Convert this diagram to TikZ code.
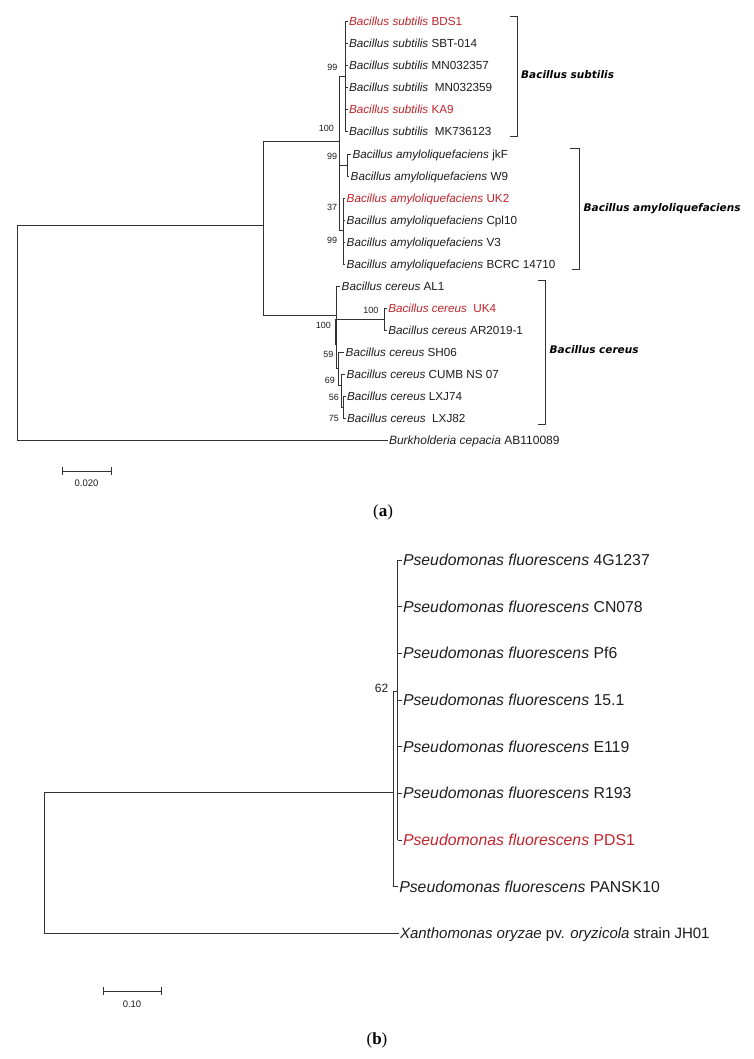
\documentclass[tikz,border=0pt]{standalone}
\usepackage{fontspec}
\setmainfont{Liberation Sans}
\newfontfamily\brfont{DejaVu Sans}
\newfontfamily\capfont{Liberation Serif}
\definecolor{tred}{RGB}{192,36,44}
\definecolor{ink}{RGB}{30,30,30}
\definecolor{lin}{RGB}{50,50,50}
\begin{document}
\begin{tikzpicture}[x=1pt,y=-1pt,
  br/.style={draw=lin, line width=0.8pt},
  bk/.style={draw=lin, line width=0.9pt},
  lfa/.style={anchor=west, inner sep=0pt, outer xsep=1.5pt, text=ink, font=\fontsize{11.7}{13}\selectfont, text height=8.4pt, text depth=0pt},
  lfb/.style={anchor=west, inner sep=0pt, outer xsep=1.5pt, text=ink, font=\fontsize{15.8}{17}\selectfont, text height=11.3pt, text depth=0pt},
  bsa/.style={anchor=east, inner sep=0pt, text=ink, font=\fontsize{9}{10}\selectfont, text height=6.4pt, text depth=0pt},
  bsb/.style={anchor=east, inner sep=0pt, text=ink, font=\fontsize{12}{13}\selectfont, text height=8.6pt, text depth=0pt},
  clab/.style={anchor=west, inner sep=0pt, text=black, font=\brfont\bfseries\itshape\fontsize{10.5}{12}\selectfont, text height=7.7pt, text depth=0pt},
  sbl/.style={anchor=center, inner sep=0pt, text=ink, font=\fontsize{9.5}{11}\selectfont},
  capst/.style={anchor=center, inner sep=0pt, text=black, font=\capfont\fontsize{17}{19}\selectfont},
]
\path[use as bounding box, fill=white] (0,0) rectangle (754,1059);

% ================= panel (a) =================
% leaves: subtilis
\node[lfa, text=tred] (bds1) at (347.5,21) {\textit{Bacillus subtilis} BDS1};
\node[lfa] (sbt) at (347.5,43) {\textit{Bacillus subtilis} SBT-014};
\node[lfa] (mn57) at (347.5,65) {\textit{Bacillus subtilis} MN032357};
\node[lfa] (mn59) at (347.5,87) {\textit{Bacillus subtilis}\ \ MN032359};
\node[lfa, text=tred] (ka9) at (347.5,109) {\textit{Bacillus subtilis} KA9};
\node[lfa] (mk) at (347.5,131) {\textit{Bacillus subtilis}\ \ MK736123};
% leaves: amyloliquefaciens
\node[lfa] (jkf) at (351,154) {\textit{Bacillus amyloliquefaciens} jkF};
\node[lfa] (w9) at (349.2,176) {\textit{Bacillus amyloliquefaciens} W9};
\node[lfa, text=tred] (uk2) at (345.2,198) {\textit{Bacillus amyloliquefaciens} UK2};
\node[lfa] (cpl) at (345.2,220) {\textit{Bacillus amyloliquefaciens} Cpl10};
\node[lfa] (v3) at (345.2,242) {\textit{Bacillus amyloliquefaciens} V3};
\node[lfa] (bcrc) at (345.2,264) {\textit{Bacillus amyloliquefaciens} BCRC 14710};
% leaves: cereus
\node[lfa] (al1) at (340.2,286) {\textit{Bacillus cereus} AL1};
\node[lfa, text=tred] (uk4) at (386.8,308) {\textit{Bacillus cereus}\ \ UK4};
\node[lfa] (ar) at (386.8,330) {\textit{Bacillus cereus} AR2019-1};
\node[lfa] (sh) at (344.2,352) {\textit{Bacillus cereus} SH06};
\node[lfa] (cumb) at (345.2,374) {\textit{Bacillus cereus} CUMB NS 07};
\node[lfa] (lx74) at (345.5,396) {\textit{Bacillus cereus} LXJ74};
\node[lfa] (lx82) at (345.5,418) {\textit{Bacillus cereus}\ \ LXJ82};
\node[lfa, font=\fontsize{12}{13}\selectfont] (bur) at (387.5,440) {\textit{Burkholderia cepacia} AB110089};

% internal nodes
\coordinate (rA) at (17,225);
\coordinate (nB) at (263,225);
\coordinate (n100) at (339,141);
\coordinate (nS) at (345,76);
\coordinate (nJ) at (347,165);
\coordinate (nU) at (343,230);
\coordinate (nC) at (336,315);
\coordinate (nK) at (384,319);
\coordinate (thk) at (336,345);
\coordinate (n59) at (338,368);
\coordinate (n69) at (341,385);
\coordinate (n56) at (343,407);

% branches
\draw[br] (rA) -- (nB);
\draw[br] (rA) |- (bur.west);
\draw[br] (nB |- n100) -- (nB |- nC);
\draw[br] (nB |- n100) -- (n100);
\draw[br] (nB |- nC) -- (nC);
\draw[br] (n100 |- nS) -- (n100 |- nU);
\draw[br] (n100 |- nS) -- (nS);
\draw[br] (n100 |- nJ) -- (nJ);
\draw[br] (n100 |- nU) -- (nU);
\draw[br] (nS |- bds1) -- (nS |- mk);
\foreach \l in {bds1,sbt,mn57,mn59,ka9,mk} \draw[br] (nS |- \l) -- (\l.west);
\draw[br] (nJ |- jkf) -- (nJ |- w9);
\foreach \l in {jkf,w9} \draw[br] (nJ |- \l) -- (\l.west);
\draw[br] (nU |- uk2) -- (nU |- bcrc);
\foreach \l in {uk2,cpl,v3,bcrc} \draw[br] (nU |- \l) -- (\l.west);
\draw[br] (nC |- al1) -- (nC |- n59);
\draw[br] (nC |- al1) -- (al1.west);
\draw[br, line width=1.7pt] (nC |- nK) -- (thk);
\draw[br] (nC |- nK) -- (nK);
\draw[br] (nK |- uk4) -- (nK |- ar);
\foreach \l in {uk4,ar} \draw[br] (nK |- \l) -- (\l.west);
\draw[br] (nC |- n59) -- (n59);
\draw[br] (n59 |- sh) -- (n59 |- n69);
\draw[br] (n59 |- sh) -- (sh.west);
\draw[br] (n59 |- n69) -- (n69);
\draw[br] (n69 |- cumb) -- (n69 |- n56);
\draw[br] (n69 |- cumb) -- (cumb.west);
\draw[br] (n69 |- n56) -- (n56);
\draw[br] (n56 |- lx74) -- (n56 |- lx82);
\foreach \l in {lx74,lx82} \draw[br] (n56 |- \l) -- (\l.west);

% bootstrap values
\node[bsa] (b1) at (337.5,67) {99};
\node[bsa] (b2) at (334,128.5) {100};
\node[bsa] (b3) at (337.3,156) {99};
\node[bsa] (b4) at (337.3,207) {37};
\node[bsa] (b5) at (337.3,240) {99};
\node[bsa] (b6) at (378.5,310) {100};
\node[bsa] (b7) at (331,325) {100};
\node[bsa] (b8) at (333.5,354.5) {59};
\node[bsa] (b9) at (335,380.5) {69};
\node[bsa] (b10) at (339,397.5) {56};
\node[bsa] (b11) at (339,418.5) {75};

% clade brackets
\draw[bk] (510,16) -- (517,16) -- (517,136) -- (510,136);
\draw[bk] (570,148) -- (579,148) -- (579,269) -- (572,269);
\draw[bk] (538,280) -- (545,280) -- (545,424) -- (538,424);
\node[clab] (cs) at (521,75) {Bacillus subtilis};
\node[clab] (ca) at (583.5,207.5) {Bacillus amyloliquefaciens};
\node[clab] (cc) at (549.5,350) {Bacillus cereus};

% scale bar (a)
\coordinate (sa1) at (62,471);
\coordinate (sa2) at (111,471);
\draw[br] (sa1) -- (sa2);
\draw[br] (sa1) ++(0,-4) -- ++(0,8);
\draw[br] (sa2) ++(0,-4) -- ++(0,8);
\node[sbl] (sal) at (86.5,483) {0.020};
\node[capst] (capa) at (383,512) {(\textbf{a})};

% ================= panel (b) =================
\node[lfb] (p1) at (401.5,560) {\textit{Pseudomonas fluorescens} 4G1237};
\node[lfb] (p2) at (401.5,606.7) {\textit{Pseudomonas fluorescens} CN078};
\node[lfb] (p3) at (401.5,653.3) {\textit{Pseudomonas fluorescens} Pf6};
\node[lfb] (p4) at (401.5,700) {\textit{Pseudomonas fluorescens} 15.1};
\node[lfb] (p5) at (401.5,746.7) {\textit{Pseudomonas fluorescens} E119};
\node[lfb] (p6) at (401.5,793.3) {\textit{Pseudomonas fluorescens} R193};
\node[lfb, text=tred] (p7) at (401.5,840) {\textit{Pseudomonas fluorescens} PDS1};
\node[lfb] (p8) at (397.8,886.7) {\textit{Pseudomonas fluorescens} PANSK10};
\node[lfb, font=\fontsize{15}{17}\selectfont] (xan) at (398.5,933.3) {\textit{Xanthomonas oryzae} pv. \textit{oryzicola} strain JH01};

\coordinate (rB) at (44,792.3);
\coordinate (nP) at (393.3,792.3);
\coordinate (nQ) at (397.7,691);

\draw[br] (rB) -- (nP);
\draw[br] (rB) |- (xan.west);
\draw[br] (nP |- nQ) -- (nP |- p8);
\draw[br] (nP |- nQ) -- (nQ);
\draw[br] (nP |- p8) -- (p8.west);
\draw[br] (nQ |- p1) -- (nQ |- p7);
\foreach \l in {p1,p2,p3,p4,p5,p6,p7} \draw[br] (nQ |- \l) -- (\l.west);
\node[bsb] (b62) at (388.5,688) {62};

% scale bar (b)
\coordinate (sb1) at (103,991);
\coordinate (sb2) at (161,991);
\draw[br] (sb1) -- (sb2);
\draw[br] (sb1) ++(0,-4) -- ++(0,8);
\draw[br] (sb2) ++(0,-4) -- ++(0,8);
\node[sbl] (sbl2) at (132,1004) {0.10};
\node[capst] (capb) at (377,1040) {(\textbf{b})};
\end{tikzpicture}
\end{document}
